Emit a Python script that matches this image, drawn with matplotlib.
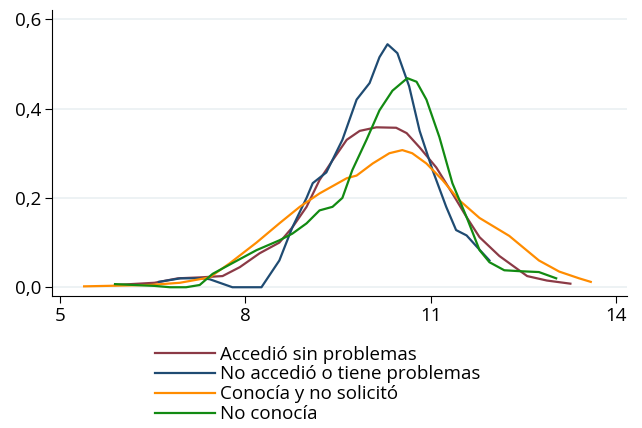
import matplotlib
matplotlib.use("Agg")
import matplotlib.pyplot as plt
from matplotlib.ticker import FuncFormatter

plt.rcParams['font.family'] = ['Open Sans', 'DejaVu Sans']

# Densidad por grupo
x_acc = [5.89, 6.53, 6.91, 7.26, 7.63, 7.91, 8.23, 8.55, 8.76, 8.99, 9.20, 9.41, 9.64,
         9.85, 10.12, 10.44, 10.61, 10.82, 11.09, 11.35, 11.58, 11.79, 12.11, 12.56, 12.88, 13.26]
y_acc = [0.005, 0.01, 0.02, 0.022, 0.025, 0.045, 0.076, 0.10, 0.134, 0.18, 0.24, 0.284, 0.33,
         0.35, 0.358, 0.357, 0.345, 0.313, 0.268, 0.21, 0.157, 0.112, 0.07, 0.025, 0.015, 0.008]

x_noacc = [6.60, 6.95, 7.30, 7.42, 7.79, 8.26, 8.55, 8.76, 8.99, 9.09, 9.31, 9.57, 9.80, 10.01,
           10.17, 10.30, 10.46, 10.65, 10.82, 11.03, 11.25, 11.41, 11.58, 11.75, 11.95]
y_noacc = [0.012, 0.02, 0.02, 0.018, 0.0, 0.0, 0.06, 0.134, 0.2, 0.233, 0.257, 0.33, 0.42, 0.457,
           0.515, 0.544, 0.524, 0.45, 0.35, 0.262, 0.18, 0.128, 0.116, 0.09, 0.06]

x_nosol = [5.39, 6.45, 6.94, 7.42, 7.75, 8.18, 8.55, 8.88, 9.20, 9.64, 9.80, 10.06, 10.33,
           10.54, 10.70, 10.93, 11.19, 11.46, 11.79, 12.27, 12.75, 13.08, 13.40, 13.59]
y_nosol = [0.002, 0.005, 0.01, 0.022, 0.054, 0.10, 0.143, 0.18, 0.21, 0.244, 0.25, 0.277, 0.30,
           0.307, 0.30, 0.277, 0.24, 0.195, 0.155, 0.115, 0.06, 0.035, 0.02, 0.012]

x_nocon = [5.89, 6.53, 6.78, 7.04, 7.26, 7.47, 7.79, 8.18, 8.55, 8.76, 8.99, 9.20, 9.41, 9.57,
           9.73, 9.96, 10.17, 10.38, 10.62, 10.77, 10.93, 11.14, 11.35, 11.58, 11.79, 11.95,
           12.19, 12.43, 12.75, 13.03]
y_nocon = [0.007, 0.003, 0.0, 0.0, 0.005, 0.03, 0.054, 0.083, 0.105, 0.12, 0.143, 0.172, 0.18, 0.2,
           0.262, 0.33, 0.396, 0.44, 0.468, 0.46, 0.42, 0.336, 0.233, 0.157, 0.083, 0.056,
           0.038, 0.036, 0.034, 0.02]

labels = ["Accedió sin problemas", "No accedió o tiene problemas",
          "Conocía y no solicitó", "No conocía"]
colors = ["#8b3a46", "#1f4b72", "#ff8c00", "#128a12"]

fig = plt.figure(figsize=(6.42, 4.28), dpi=100)
ax = fig.add_axes([0.081, 0.308, 0.896, 0.668])

series = [(x_acc, y_acc), (x_noacc, y_noacc), (x_nosol, y_nosol), (x_nocon, y_nocon)]
for (xs, ys), lab, c in zip(series, labels, colors):
    ax.plot(xs, ys, color=c, lw=1.6, label=lab, solid_joinstyle='round')

ax.set_xlim(4.87, 14.18)
ax.set_ylim(-0.02, 0.62)
ax.set_xticks([5, 8, 11, 14])
ax.set_yticks([0, 0.2, 0.4, 0.6])
ax.yaxis.set_major_formatter(FuncFormatter(lambda v, p: f"{v:.1f}".replace(".", ",")))
ax.grid(axis='y', color='#eaf0f2', lw=1.2)
ax.set_axisbelow(True)
for s in ['top', 'right']:
    ax.spines[s].set_visible(False)
ax.tick_params(labelsize=13.5, length=5, color='black', pad=3)

fig.legend(loc='upper left', bbox_to_anchor=(0.227, 0.2145), frameon=False,
           fontsize=13.5, handlelength=3.2, labelspacing=0.1, borderpad=0,
           handletextpad=0.25)

fig.savefig("out.png", dpi=100)
